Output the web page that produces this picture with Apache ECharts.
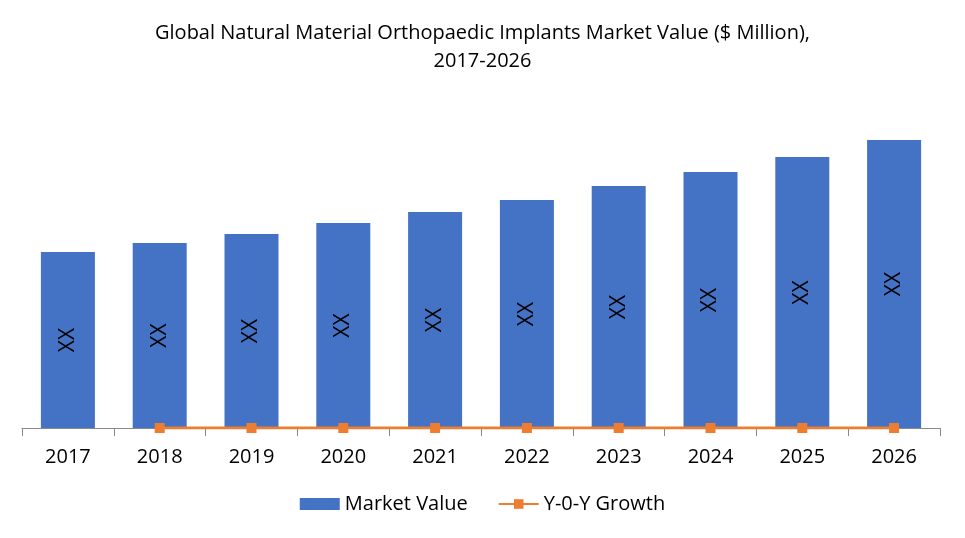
<!DOCTYPE html>
<html>
<head>
<meta charset="utf-8">
<script src="https://cdn.jsdelivr.net/npm/echarts@6/dist/echarts.min.js"></script>
<style>html,body{margin:0;padding:0;background:#fff;}#c{width:965px;height:538px;}</style>
</head>
<body>
<div id="c"></div>
<script>
const categories = ['2017','2018','2019','2020','2021','2022','2023','2024','2025','2026'];
const marketValue = [176,185,194,205,216,228,242,256,271,288];
const yoyGrowth = [null,0,0,0,0,0,0,0,0,0];
const barLabel = 'XX';
const titleText = 'Global Natural Material Orthopaedic Implants Market Value ($ Million),\n2017-2026';

const chart = echarts.init(document.getElementById('c'));
const font = "'Open Sans', 'Liberation Sans', sans-serif";
chart.setOption({
  backgroundColor: '#fff',
  animation: false,
  title: {
    text: titleText,
    left: 'center',
    top: 14,
    textStyle: {fontFamily: font, fontSize: 20, fontWeight: 'normal', color: '#000', lineHeight: 28}
  },
  legend: {
    bottom: 19,
    left: 'center',
    itemWidth: 40,
    itemHeight: 12,
    itemGap: 30,
    textStyle: {fontFamily: font, fontSize: 20, color: '#000'},
    data: [
      {name: 'Market Value', icon: 'rect'},
      {name: 'Y-0-Y Growth'}
    ]
  },
  grid: {left: 22, right: 25, top: 128, bottom: 110, containLabel: false},
  xAxis: {
    type: 'category',
    data: categories,
    axisLine: {lineStyle: {color: '#898989', width: 1}},
    axisTick: {show: true, length: 8, lineStyle: {color: '#898989'}},
    axisLabel: {fontFamily: font, fontSize: 20, color: '#000', margin: 19}
  },
  yAxis: {
    type: 'value', min: 0, max: 300,
    show: false,
    splitLine: {show: false}
  },
  series: [
    {
      name: 'Market Value',
      type: 'bar',
      data: marketValue,
      barWidth: 54,
      itemStyle: {color: '#4472C4'},
      label: {
        show: true,
        position: 'inside',
        rotate: 90,
        formatter: barLabel,
        fontFamily: font,
        fontSize: 21,
        color: '#000'
      }
    },
    {
      name: 'Y-0-Y Growth',
      type: 'line',
      data: yoyGrowth,
      symbol: 'rect',
      symbolSize: 10,
      lineStyle: {color: '#ED7D31', width: 3},
      itemStyle: {color: '#ED7D31'},
      z: 5
    }
  ]
});
</script>
</body>
</html>
